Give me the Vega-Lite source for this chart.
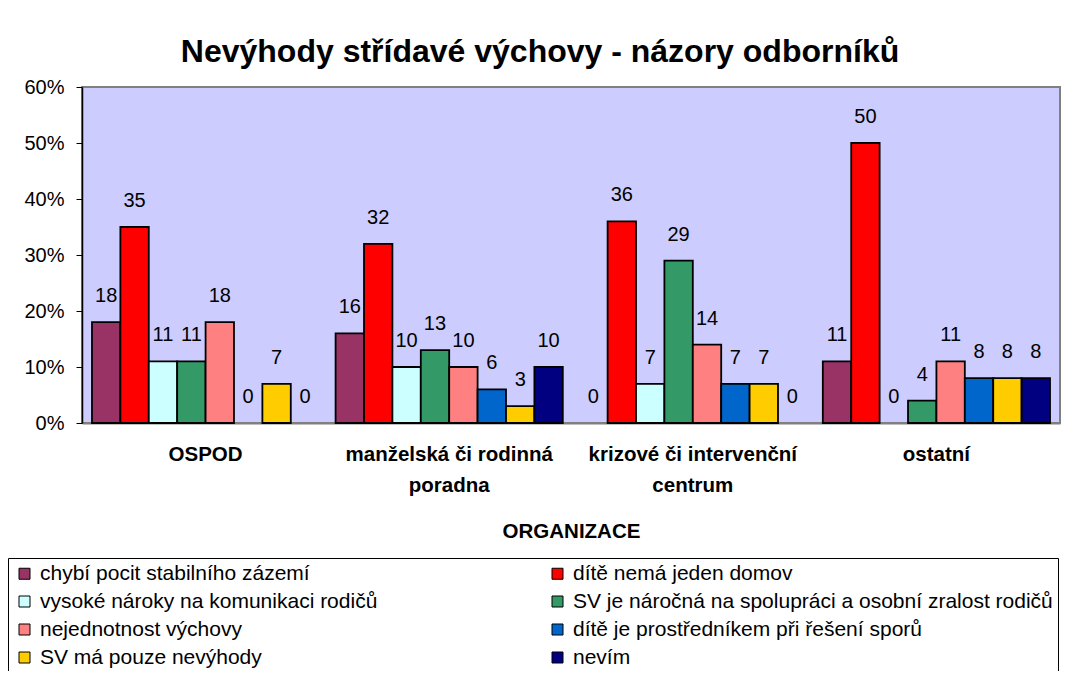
{
  "$schema": "https://vega.github.io/schema/vega-lite/v6.json",
  "width": 978,
  "height": 336,
  "autosize": {"type": "none"},
  "padding": {"left": 82, "top": 87, "right": 15, "bottom": 248},
  "background": "white",
  "title": {
    "text": "Nevýhody střídavé výchovy - názory odborníků",
    "font": "Liberation Sans",
    "fontSize": 32,
    "fontWeight": "bold",
    "color": "black",
    "anchor": "middle",
    "dx": -31,
    "dy": 41,
    "baseline": "alphabetic",
    "offset": 24
  },
  "config": {
    "view": {"fill": "#CCCCFF", "stroke": "#808080", "strokeWidth": 2},
    "font": "Liberation Sans",
    "axis": {"labelFont": "Liberation Sans", "titleFont": "Liberation Sans", "labelColor": "black", "titleColor": "black"}
  },
  "data": {
    "values": [
      {"org": "OSPOD", "series": "chybí pocit stabilního zázemí", "value": 18},
      {"org": "OSPOD", "series": "dítě nemá jeden domov", "value": 35},
      {"org": "OSPOD", "series": "vysoké nároky na komunikaci rodičů", "value": 11},
      {"org": "OSPOD", "series": "SV je náročná na spolupráci a osobní zralost rodičů", "value": 11},
      {"org": "OSPOD", "series": "nejednotnost výchovy", "value": 18},
      {"org": "OSPOD", "series": "dítě je prostředníkem při řešení sporů", "value": 0},
      {"org": "OSPOD", "series": "SV má pouze nevýhody", "value": 7},
      {"org": "OSPOD", "series": "nevím", "value": 0},
      {"org": "manželská či rodinná poradna", "series": "chybí pocit stabilního zázemí", "value": 16},
      {"org": "manželská či rodinná poradna", "series": "dítě nemá jeden domov", "value": 32},
      {"org": "manželská či rodinná poradna", "series": "vysoké nároky na komunikaci rodičů", "value": 10},
      {"org": "manželská či rodinná poradna", "series": "SV je náročná na spolupráci a osobní zralost rodičů", "value": 13},
      {"org": "manželská či rodinná poradna", "series": "nejednotnost výchovy", "value": 10},
      {"org": "manželská či rodinná poradna", "series": "dítě je prostředníkem při řešení sporů", "value": 6},
      {"org": "manželská či rodinná poradna", "series": "SV má pouze nevýhody", "value": 3},
      {"org": "manželská či rodinná poradna", "series": "nevím", "value": 10},
      {"org": "krizové či intervenční centrum", "series": "chybí pocit stabilního zázemí", "value": 0},
      {"org": "krizové či intervenční centrum", "series": "dítě nemá jeden domov", "value": 36},
      {"org": "krizové či intervenční centrum", "series": "vysoké nároky na komunikaci rodičů", "value": 7},
      {"org": "krizové či intervenční centrum", "series": "SV je náročná na spolupráci a osobní zralost rodičů", "value": 29},
      {"org": "krizové či intervenční centrum", "series": "nejednotnost výchovy", "value": 14},
      {"org": "krizové či intervenční centrum", "series": "dítě je prostředníkem při řešení sporů", "value": 7},
      {"org": "krizové či intervenční centrum", "series": "SV má pouze nevýhody", "value": 7},
      {"org": "krizové či intervenční centrum", "series": "nevím", "value": 0},
      {"org": "ostatní", "series": "chybí pocit stabilního zázemí", "value": 11},
      {"org": "ostatní", "series": "dítě nemá jeden domov", "value": 50},
      {"org": "ostatní", "series": "vysoké nároky na komunikaci rodičů", "value": 0},
      {"org": "ostatní", "series": "SV je náročná na spolupráci a osobní zralost rodičů", "value": 4},
      {"org": "ostatní", "series": "nejednotnost výchovy", "value": 11},
      {"org": "ostatní", "series": "dítě je prostředníkem při řešení sporů", "value": 8},
      {"org": "ostatní", "series": "SV má pouze nevýhody", "value": 8},
      {"org": "ostatní", "series": "nevím", "value": 8}
    ]
  },
  "encoding": {
    "x": {
      "field": "org",
      "type": "nominal",
      "sort": ["OSPOD", "manželská či rodinná poradna", "krizové či intervenční centrum", "ostatní"],
      "scale": {"paddingInner": 0.0674, "paddingOuter": 0.041},
      "axis": {
        "title": "ORGANIZACE",
        "titleFontSize": 20.5,
        "titleFontWeight": "bold",
        "titlePadding": 26,
        "labelAngle": 0,
        "labelFontSize": 20.5,
        "labelFontWeight": "bold",
        "labelPadding": 21,
        "labelLineHeight": 31,
        "labelLimit": 400,
        "labelExpr": "datum.value == 'manželská či rodinná poradna' ? ['manželská či rodinná', 'poradna'] : datum.value == 'krizové či intervenční centrum' ? ['krizové či intervenční', 'centrum'] : datum.value",
        "ticks": false,
        "domainColor": "#808080",
        "domainWidth": 2
      }
    },
    "xOffset": {
      "field": "series",
      "type": "nominal",
      "sort": ["chybí pocit stabilního zázemí", "dítě nemá jeden domov", "vysoké nároky na komunikaci rodičů", "SV je náročná na spolupráci a osobní zralost rodičů", "nejednotnost výchovy", "dítě je prostředníkem při řešení sporů", "SV má pouze nevýhody", "nevím"],
      "scale": {"paddingInner": 0, "paddingOuter": 0}
    },
    "y": {
      "field": "value",
      "type": "quantitative",
      "scale": {"domain": [0, 60], "nice": false},
      "axis": {
        "title": null,
        "values": [0, 10, 20, 30, 40, 50, 60],
        "labelExpr": "datum.value + '%'",
        "labelFontSize": 20,
        "labelPadding": 12,
        "tickSize": 6,
        "tickColor": "black",
        "domainColor": "black",
        "domainWidth": 1.5,
        "grid": false
      }
    }
  },
  "layer": [
    {
      "mark": {"type": "bar", "stroke": "black", "strokeWidth": 1.8},
      "encoding": {
        "strokeOpacity": {"condition": {"test": "datum.value == 0", "value": 0}, "value": 1},
        "color": {
          "field": "series",
          "type": "nominal",
          "scale": {
            "domain": ["chybí pocit stabilního zázemí", "dítě nemá jeden domov", "vysoké nároky na komunikaci rodičů", "SV je náročná na spolupráci a osobní zralost rodičů", "nejednotnost výchovy", "dítě je prostředníkem při řešení sporů", "SV má pouze nevýhody", "nevím"],
            "range": ["#993366", "#FF0000", "#CCFFFF", "#339966", "#FF8080", "#0066CC", "#FFCC00", "#000080"]
          },
          "legend": {
            "title": null,
            "orient": "none",
            "legendX": -74,
            "legendY": 471,
            "direction": "horizontal",
            "columns": 2,
            "columnPadding": 168,
            "rowPadding": 6,
            "padding": 5,
            "strokeColor": "black",
            "symbolType": "square",
            "symbolSize": 121,
            "symbolStrokeColor": "black",
            "symbolStrokeWidth": 1,
            "symbolOpacity": 1,
            "symbolOffset": 1,
            "labelFont": "Liberation Sans",
            "labelFontSize": 21,
            "labelColor": "black",
            "labelOffset": 5,
            "labelLimit": 700
          }
        }
      }
    },
    {
      "mark": {"type": "text", "baseline": "alphabetic", "dy": -20, "fontSize": 20, "font": "Liberation Sans", "color": "black"},
      "encoding": {
        "text": {"field": "value", "type": "quantitative"}
      }
    }
  ]
}
